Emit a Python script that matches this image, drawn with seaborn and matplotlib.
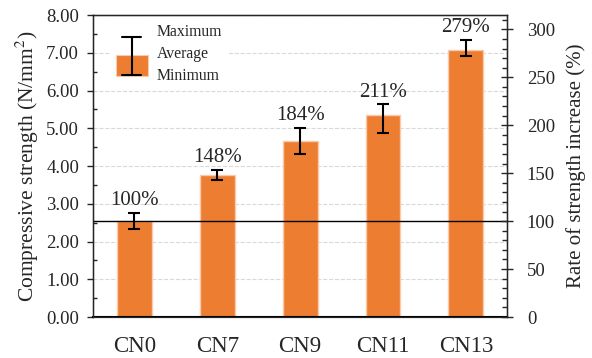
import matplotlib
matplotlib.use("Agg")
import matplotlib.pyplot as plt
import seaborn as sns
import pandas as pd
import numpy as np
from matplotlib.legend_handler import HandlerBase
from matplotlib.patches import Rectangle
from matplotlib.lines import Line2D
from matplotlib.ticker import MultipleLocator, FormatStrFormatter

groups = ["CN0", "CN7", "CN9", "CN11", "CN13"]
avg_strength = [2.54, 3.75, 4.67, 5.36, 7.08]
max_strength = [2.75, 3.89, 5.00, 5.63, 7.34]
min_strength = [2.32, 3.63, 4.33, 4.87, 6.91]
rate_labels = ["100%", "148%", "184%", "211%", "279%"]

BAR_COLOR = "#ED7D31"
EDGE_COLOR = "#F8CBAD"

sns.set_style("white")
plt.rcParams["font.family"] = ["Liberation Serif", "DejaVu Serif"]
plt.rcParams["mathtext.fontset"] = "stix"


class BarErrHandler(HandlerBase):
    def create_artists(self, legend, orig_handle, xdescent, ydescent,
                       width, height, fontsize, trans):
        x0, y0 = -xdescent, -ydescent
        rect = Rectangle((x0, y0), width, height * 0.52, facecolor=BAR_COLOR,
                         edgecolor=EDGE_COLOR, lw=0.8, transform=trans)
        xc = x0 + width / 2
        cap = width * 0.3
        top = y0 + height * 0.97
        bot = y0 + height * 0.03
        stem = Line2D([xc, xc], [bot, top], color="black", lw=1.5, transform=trans)
        c1 = Line2D([xc - cap, xc + cap], [top, top], color="black", lw=1.5, transform=trans)
        c2 = Line2D([xc - cap, xc + cap], [bot, bot], color="black", lw=1.5, transform=trans)
        return [rect, stem, c1, c2]


df = pd.DataFrame({"group": groups, "avg": avg_strength,
                   "max": max_strength, "min": min_strength})

fig = plt.figure(figsize=(5.92, 3.58), dpi=100)
ax = fig.add_subplot(111)
fig.subplots_adjust(left=0.157, right=0.857, top=0.958, bottom=0.1145)

sns.barplot(df, x="group", y="avg", color=BAR_COLOR, width=0.42,
            edgecolor=EDGE_COLOR, linewidth=1, saturation=1, errorbar=None, ax=ax, zorder=2)

x = np.arange(len(groups))
yerr = [df["avg"] - df["min"], df["max"] - df["avg"]]
ax.errorbar(x, df["avg"], yerr=yerr, fmt="none", ecolor="black",
            elinewidth=1.5, capsize=4.5, capthick=1.5, zorder=3)

for xi, top, lab in zip(x, df["max"], rate_labels):
    ax.annotate(lab, (xi, top), xytext=(0, 2), textcoords="offset points",
                ha="center", va="bottom", fontsize=15)

ax.axhline(avg_strength[0], color="black", lw=1, zorder=4)

ax.set_xlim(-0.5, len(groups) - 0.5)
ax.set_ylim(0, 8)
ax.yaxis.set_major_locator(MultipleLocator(1))
ax.yaxis.set_minor_locator(MultipleLocator(0.5))
ax.yaxis.set_major_formatter(FormatStrFormatter("%.2f"))
ax.yaxis.grid(True, which="major", linestyle="--", color="#D9D9D9", lw=0.8, zorder=0)
ax.set_axisbelow(True)
ax.tick_params(axis="y", which="major", direction="out", length=4, width=1,
               labelsize=13.5, pad=6, left=True)
ax.tick_params(axis="y", which="minor", direction="in", length=3, width=1, left=True)
ax.tick_params(axis="x", length=0, labelsize=16.5, pad=14)
ax.set_xlabel("")
ax.set_ylabel("Compressive strength (N/mm$^2$)", fontsize=15.5, labelpad=4)
for s in ax.spines.values():
    s.set_color("black")
    s.set_linewidth(1)
ax.spines["bottom"].set_linewidth(1.5)

ax2 = ax.twinx()
ax2.set_ylim(0, 800 / avg_strength[0])
ax2.yaxis.set_major_locator(MultipleLocator(50))
ax2.yaxis.set_minor_locator(MultipleLocator(10))
ax2.tick_params(axis="y", which="major", direction="inout", length=8, width=1,
                labelsize=13.5, pad=10)
ax2.tick_params(axis="y", which="minor", direction="in", length=3.5, width=1)
ax2.set_ylabel("Rate of strength increase (%)", fontsize=15, labelpad=8)
ax2.grid(False)

proxy = Rectangle((0, 0), 1, 1)
leg = ax.legend([proxy], ["Maximum\nAverage\nMinimum"],
                handler_map={proxy: BarErrHandler()},
                loc="upper left", bbox_to_anchor=(0.022, 1.017),
                fontsize=11.3, handlelength=2.0, handleheight=3.6,
                handletextpad=0.6, frameon=True, fancybox=False,
                edgecolor="none", facecolor="white", framealpha=1)
leg.set_zorder(2.45)
for t in leg.get_texts():
    t.set_linespacing(1.5)

fig.savefig("out.png", dpi=100)
